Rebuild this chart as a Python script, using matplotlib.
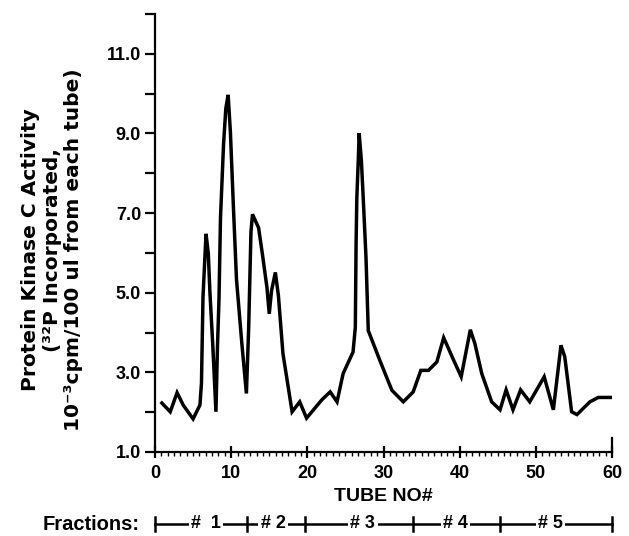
import matplotlib
matplotlib.use("Agg")
import matplotlib.pyplot as plt
from matplotlib.ticker import MultipleLocator, FixedLocator
import matplotlib.transforms as mtransforms

tube = [0.9, 2.0, 2.9, 3.7, 5.0, 5.9, 6.1, 6.3, 6.7, 7.0,
        7.2, 7.6, 8.0, 8.2, 8.4, 8.6, 9.0, 9.3, 9.6, 9.9,
        10.3, 10.7, 11.4, 12.0, 12.3, 12.6, 12.8, 13.6, 14.1, 14.7,
        15.0, 15.3, 15.8, 16.2, 16.8, 18.0, 19.0, 19.9, 21.9, 23.0,
        23.9, 24.7, 26.0, 26.3, 26.4, 26.5, 26.7, 26.8, 27.1, 27.4,
        27.7, 28.0, 29.5, 31.1, 32.6, 33.9, 34.9, 35.9, 37.0, 37.9,
        39.2, 40.2, 41.4, 42.0, 42.9, 44.2, 45.3, 46.1, 47.0, 48.0,
        49.2, 51.1, 52.3, 53.3, 53.8, 54.7, 55.4, 57.1, 58.2, 60.0]
activity = [2.23, 2.01, 2.49, 2.18, 1.83, 2.18, 2.73, 4.89, 6.48, 5.98,
            5.05, 3.63, 2.01, 3.63, 4.83, 6.89, 8.73, 9.63, 9.97, 9.03,
            7.13, 5.33, 3.73, 2.47, 4.13, 6.53, 6.97, 6.63, 5.97, 5.13,
            4.47, 5.05, 5.51, 4.93, 3.47, 2.01, 2.26, 1.85, 2.31, 2.51,
            2.26, 2.97, 3.51, 4.13, 6.23, 7.39, 8.39, 9.01, 8.31, 7.13,
            5.89, 4.05, 3.31, 2.55, 2.26, 2.51, 3.05, 3.05, 3.26, 3.87,
            3.31, 2.89, 4.07, 3.72, 2.97, 2.26, 2.06, 2.56, 2.06, 2.56,
            2.26, 2.89, 2.06, 3.68, 3.39, 2.01, 1.94, 2.26, 2.37, 2.37]

ytick_values = [1.0, 3.0, 5.0, 7.0, 9.0, 11.0]
ytick_labels = ["1.0", "3.0", "5.0", "7.0", "9.0", "11.0"]
xtick_values = [0, 10, 20, 30, 40, 50, 60]
xtick_labels = ["0", "10", "20", "30", "40", "50", "60"]

fraction_bounds = [0, 12.1, 19.7, 33.9, 45.3, 60]
fraction_labels = ["#  1", "# 2", "# 3", "# 4", "# 5"]
fraction_label_pos = [6.7, 15.5, 27.3, 39.5, 51.9]

plt.rcParams['font.family'] = ['Liberation Sans', 'DejaVu Sans']
plt.rcParams['font.weight'] = 'bold'

fig = plt.figure(figsize=(6.29, 5.36), dpi=100)
ax = fig.add_axes([155/629, 1 - 452/536, (612 - 155)/629, (452 - 14)/536])

ax.plot(tube, activity, color='black', lw=2.5, solid_joinstyle='miter')

ax.set_xlim(0, 60)
ax.set_ylim(1.0, 12.0)

ax.spines['top'].set_visible(False)
ax.spines['right'].set_bounds(1.0, 1.35)
for s in ['left', 'bottom', 'right']:
    ax.spines[s].set_linewidth(1.6)

ax.set_yticks(ytick_values)
ax.set_yticklabels(ytick_labels, fontsize=13, fontweight='bold')
ax.yaxis.set_minor_locator(FixedLocator([2, 4, 6, 8, 10, 12]))
ax.tick_params(axis='y', which='major', direction='out', length=7, width=1.6, pad=3)
ax.tick_params(axis='y', which='minor', direction='out', length=7, width=1.6)

ax.set_xticks(xtick_values)
ax.set_xticklabels(xtick_labels, fontsize=13, fontweight='bold')
ax.xaxis.set_minor_locator(MultipleLocator(10/12))
ax.tick_params(axis='x', which='major', direction='inout', length=8, width=1.6, pad=5)
ax.tick_params(axis='x', which='minor', direction='out', length=3, width=1.0)
ax.tick_params(axis='y', which='both', right=False)

ax.set_xlabel("TUBE NO#", fontsize=14, fontweight='bold')
ax.xaxis.set_label_coords(0.5, (452 - 488) / 438)

ax.set_ylabel("Protein Kinase C Activity\n(\u00b3\u00b2P Incorporated,\n10\u207b\u00b3cpm/100 ul from each tube)",
              fontsize=14.5, fontweight='bold', linespacing=1.15, multialignment='center',
              family=['DejaVu Sans'])
ax.yaxis.set_label_coords((83 - 155) / 457, (452 - 250) / 438)

# Fractions scale
trans = mtransforms.blended_transform_factory(ax.transData, ax.transAxes)
yf = (452 - 524) / 438
ax.plot([fraction_bounds[0], fraction_bounds[-1]], [yf, yf], transform=trans,
        color='black', lw=1.8, clip_on=False)
for b in fraction_bounds:
    ax.plot([b, b], [yf - 0.016, yf + 0.016], transform=trans,
            color='black', lw=1.8, clip_on=False)
for lab, pos in zip(fraction_labels, fraction_label_pos):
    ax.text(pos, yf, lab, transform=trans, ha='center', va='center',
            fontsize=13, fontweight='bold',
            bbox=dict(facecolor='white', edgecolor='none', pad=1.5))
fig.text(43/629, 1 - 524/536, "Fractions:", ha='left', va='center',
         fontsize=14.5, fontweight='bold')

fig.savefig("out.png", dpi=100)
